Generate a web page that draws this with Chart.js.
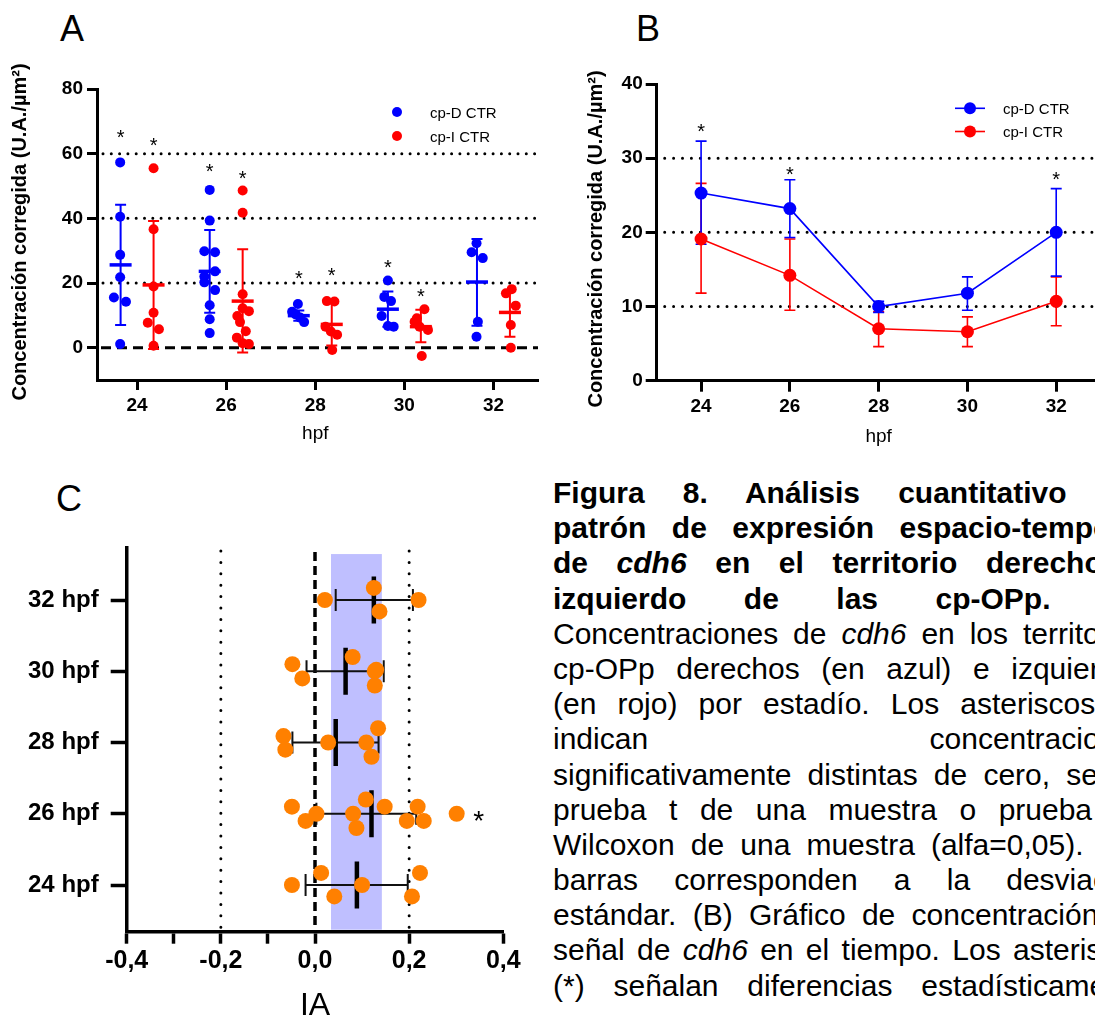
<!DOCTYPE html>
<html><head><meta charset="utf-8">
<script src="https://cdn.jsdelivr.net/npm/chart.js@4.4.1/dist/chart.umd.min.js"></script>
<style>
html,body{margin:0;padding:0;background:#fff;overflow:hidden;width:1095px;height:1019px;}
#wrap{position:relative;width:1095px;height:1019px;overflow:hidden;background:#fff;}
canvas{position:absolute;}
.letter{position:absolute;font-family:"Liberation Sans",Arial,sans-serif;font-size:36px;line-height:36px;color:#000;}
#caption{position:absolute;left:553px;top:475px;width:595px;font-family:"Liberation Sans",Arial,sans-serif;font-size:30px;line-height:35.2px;color:#000;}
#caption div{text-align:justify;text-align-last:justify;height:35.2px;}
#caption .b{font-weight:bold;}
</style>
</head><body>
<div id="wrap">
<div class="letter" style="left:60px;top:11px">A</div>
<div class="letter" style="left:636px;top:11px">B</div>
<div class="letter" style="left:56px;top:481px">C</div>
<canvas id="cA" width="560" height="400" style="left:0;top:60px"></canvas>
<canvas id="cB" width="530" height="400" style="left:580px;top:60px"></canvas>
<canvas id="cC" width="540" height="549" style="left:0;top:470px"></canvas>
<div id="caption">
<div class="b">Figura 8. Análisis cuantitativo del</div>
<div class="b">patrón de expresión espacio-temporal</div>
<div class="b">de <i>cdh6</i> en el territorio derecho e</div>
<div class="b">izquierdo de las cp-OPp. <span style="font-weight:normal">(A)</span></div>
<div>Concentraciones de <i>cdh6</i> en los territorios</div>
<div>cp-OPp derechos (en azul) e izquierdos</div>
<div>(en rojo) por estadío. Los asteriscos (*)</div>
<div>indican concentraciones</div>
<div>significativamente distintas de cero, según</div>
<div style="word-spacing:6px">prueba t de una muestra o prueba de</div>
<div>Wilcoxon de una muestra (alfa=0,05). Las</div>
<div>barras corresponden a la desviación</div>
<div>estándar. (B) Gráfico de concentración de</div>
<div>señal de <i>cdh6</i> en el tiempo. Los asteriscos</div>
<div>(*) señalan diferencias estadísticamente</div>
</div>
</div>
<script>
// ================= DATA =================
const stages = [24, 26, 28, 30, 32];
const stageLabelsC = ['24 hpf', '26 hpf', '28 hpf', '30 hpf', '32 hpf'];
const yTicksA = [0, 20, 40, 60, 80];
const yTicksB = [0, 10, 20, 30, 40];
const xTicksC = [-0.4, -0.3, -0.2, -0.1, 0, 0.1, 0.2, 0.3, 0.4];

// Panel A individual points (x = hpf with jitter, y = concentration)
const aD_x = [23.62,23.62,23.62,23.62,23.48,23.75,23.62,
  25.63,25.63,25.51,25.75,25.75,25.51,25.51,25.75,25.63,25.63,25.63,
  27.61,27.48,27.56,27.66,27.75,
  29.63,29.55,29.70,29.49,29.63,29.76,
  31.62,31.51,31.76,31.65,31.62];
const aD_y = [57.3,40.5,28.7,21.8,15.5,14.2,1.1,
  48.8,39.3,29.8,29.5,23.6,22.0,20.2,17.8,13.1,8.8,4.5,
  13.5,11.1,10.3,9.3,7.9,
  20.8,15.7,14.4,9.8,6.7,6.5,
  32.3,29.5,27.7,8.0,3.4];
const aI_x = [24.37,24.37,24.37,24.37,24.24,24.49,24.37,
  26.37,26.37,26.37,26.37,26.51,26.25,26.31,26.44,26.24,26.37,26.51,
  28.26,28.43,28.23,28.35,28.49,28.38,
  30.45,30.28,30.23,30.34,30.53,30.39,
  32.41,32.28,32.50,32.39,32.39];
const aI_y = [55.5,36.6,18.9,10.8,7.7,5.7,0.6,
  48.6,41.7,16.5,12.2,11.3,9.8,7.9,5.1,3.1,1.4,1.1,
  14.4,14.3,6.5,5.0,4.0,-0.7,
  11.9,9.1,8.0,6.5,5.5,-2.6,
  18.1,16.8,13.0,7.0,0.0];
// Panel A mean and SD bars
const aD_mean = [25.6, 23.6, 9.9, 11.9, 20.3];
const aD_lo   = [7.0, 10.8, 8.3, 6.5, 6.8];
const aD_hi   = [44.2, 36.4, 11.5, 17.4, 33.6];
const aI_mean = [19.4, 14.4, 7.2, 6.5, 10.9];
const aI_lo   = [-0.4, -1.5, 0.7, 1.7, 3.4];
const aI_hi   = [39.2, 30.4, 13.7, 11.7, 17.8];
const aD_star = [66.4, 56.0, 22.8, 26.3, null];
const aI_star = [64.0, 53.7, 23.7, 17.3, null];
const refA = [20, 40, 60];

// Panel B mean ± SEM
const bD_mean = [25.3, 23.2, 10.0, 11.8, 20.0];
const bD_hi   = [32.3, 27.1, 10.7, 14.0, 25.9];
const bD_lo   = [18.4, 19.3, 9.2, 9.5, 14.1];
const bI_mean = [19.1, 14.2, 7.0, 6.6, 10.7];
const bI_hi   = [26.6, 19.1, 9.3, 8.6, 14.0];
const bI_lo   = [11.8, 9.5, 4.6, 4.6, 7.4];
const bStar   = [34.3, 28.5, null, null, 27.8];
const refB = [10, 20, 30];

// Panel C: IA values per stage (index 0 = 24 hpf) and vertical jitter
const c24 = [-0.049, 0.013, 0.041, 0.100, 0.223, 0.206];
const c24j = [0, 0.17, -0.16, 0, 0.17, -0.16];
const c26 = [-0.049, -0.020, 0.003, 0.081, 0.108, 0.088, 0.148, 0.195, 0.218, 0.231, 0.301];
const c26j = [0.1, -0.1, 0, 0, 0.2, -0.2, 0.1, -0.1, 0.1, -0.1, 0];
const c28 = [-0.067, -0.063, 0.028, 0.109, 0.134, 0.120];
const c28j = [0.09, -0.1, 0, 0, 0.2, -0.2];
const c30 = [-0.048, -0.027, 0.080, 0.127, 0.130, 0.127];
const c30j = [0.1, -0.1, 0.2, 0, 0.02, -0.2];
const c32 = [0.021, 0.125, 0.137, 0.220];
const c32j = [0, 0.17, -0.16, 0];
const cMean = [0.089, 0.120, 0.044, 0.065, 0.125];
const cLo   = [-0.020, 0.003, -0.048, -0.018, 0.044];
const cHi   = [0.197, 0.215, 0.135, 0.146, 0.208];
const cBand = [0.034, 0.142];
const cBandTop = 4.645;
const cRef = [-0.2, 0.2];
const cStar = [0.348, 1];

// ================= STYLE =================
const F = '"Liberation Sans", Arial, Helvetica, sans-serif';
const BLUE = '#0000ff', RED = '#ff0000', ORANGE = '#ff8000';
const OFF = 0.37;
Chart.defaults.font.family = F;
Chart.defaults.color = '#000';
Chart.defaults.animation = false;
Chart.defaults.plugins.legend.display = false;
Chart.defaults.plugins.tooltip.enabled = false;

function dotted(ctx, x1, y1, x2, y2, lw, gap) {
  ctx.save(); ctx.setLineDash([0, gap]); ctx.lineCap = 'round'; ctx.lineWidth = lw;
  ctx.strokeStyle = '#000'; ctx.beginPath(); ctx.moveTo(x1, y1); ctx.lineTo(x2, y2); ctx.stroke(); ctx.restore();
}
function dashed(ctx, x1, y1, x2, y2, lw, dash) {
  ctx.save(); ctx.setLineDash(dash); ctx.lineCap = 'butt'; ctx.lineWidth = lw;
  ctx.strokeStyle = '#000'; ctx.beginPath(); ctx.moveTo(x1, y1); ctx.lineTo(x2, y2); ctx.stroke(); ctx.restore();
}
function vbar(ctx, x, y1, y2, cap, lw, color) {
  ctx.save(); ctx.strokeStyle = color; ctx.lineWidth = lw; ctx.beginPath();
  ctx.moveTo(x, y1); ctx.lineTo(x, y2);
  ctx.moveTo(x - cap, y1); ctx.lineTo(x + cap, y1);
  ctx.moveTo(x - cap, y2); ctx.lineTo(x + cap, y2);
  ctx.stroke(); ctx.restore();
}
function star(ctx, x, y, size) {
  ctx.save(); ctx.font = size + 'px ' + F; ctx.textAlign = 'center'; ctx.textBaseline = 'alphabetic';
  ctx.fillStyle = '#000'; ctx.fillText('*', x, y + 0.57 * size); ctx.restore();
}
function vtitle(ctx, text, x, y, font) {
  ctx.save(); ctx.translate(x, y); ctx.rotate(-Math.PI / 2); ctx.font = font; ctx.textAlign = 'center';
  ctx.textBaseline = 'middle'; ctx.fillStyle = '#000'; ctx.fillText(text, 0, 0); ctx.restore();
}
function htext(ctx, text, x, y, font, align) {
  ctx.save(); ctx.font = font; ctx.textAlign = align || 'center'; ctx.textBaseline = 'alphabetic';
  ctx.fillStyle = '#000'; ctx.fillText(text, x, y); ctx.restore();
}
function pts(xs, ys) { return xs.map((x, i) => ({ x: x, y: ys[i] })); }
function axisCommon(tickLen, tickW, fontSize, pad, bold) {
  return {
    grid: { display: true, drawOnChartArea: false, drawTicks: true, tickLength: tickLen, tickWidth: tickW, tickColor: '#000' },
    border: { display: true, width: 3, color: '#000' },
    ticks: { color: '#000', padding: pad, autoSkip: false, maxRotation: 0, minRotation: 0,
      font: { family: F, size: fontSize, weight: bold ? 'bold' : 'normal' } }
  };
}

// ================= PANEL A =================
(function () {
  const xA = axisCommon(10, 3, 19, 4, true);
  const yA = axisCommon(10, 3, 19, 4, true);
  new Chart(document.getElementById('cA'), {
    type: 'scatter',
    data: {
      datasets: [
        { data: stages.map((s, i) => ({ x: s - OFF, y: aD_mean[i] })), pointStyle: 'line', pointRadius: 11, borderColor: BLUE, pointBorderColor: BLUE, borderWidth: 3.5, pointBorderWidth: 3.5, order: 0 },
        { data: stages.map((s, i) => ({ x: s + OFF, y: aI_mean[i] })), pointStyle: 'line', pointRadius: 11, borderColor: RED, pointBorderColor: RED, borderWidth: 3.5, pointBorderWidth: 3.5, order: 0 },
        { data: pts(aD_x, aD_y), pointRadius: 5, backgroundColor: BLUE, pointBackgroundColor: BLUE, borderWidth: 0, pointBorderWidth: 0, order: 1 },
        { data: pts(aI_x, aI_y), pointRadius: 5, backgroundColor: RED, pointBackgroundColor: RED, borderWidth: 0, pointBorderWidth: 0, order: 1 }
      ]
    },
    options: {
      responsive: false, animation: false,
      layout: { padding: { top: 29, right: 22, left: 0, bottom: 0 } },
      scales: {
        x: Object.assign({ type: 'linear', min: 23.1, max: 33,
          afterBuildTicks: s => { s.ticks = stages.map(v => ({ value: v })); },
          afterFit: s => { s.height = 80; } }, xA),
        y: Object.assign({ type: 'linear', min: -10, max: 80,
          afterBuildTicks: s => { s.ticks = yTicksA.map(v => ({ value: v })); },
          afterFit: s => { s.width = 97; } }, yA)
      }
    },
    plugins: [{
      id: 'decoA',
      beforeDatasetsDraw(chart) {
        const { ctx, chartArea: ca, scales: { x, y } } = chart;
        refA.forEach(v => dotted(ctx, ca.left + 6, y.getPixelForValue(v), ca.right, y.getPixelForValue(v), 3, 8.3));
        dashed(ctx, ca.left + 4, y.getPixelForValue(0), ca.right, y.getPixelForValue(0), 3, [10, 6]);
      },
      afterDatasetsDraw(chart) {
        const { ctx, scales: { x, y } } = chart;
        stages.forEach((s, i) => {
          vbar(ctx, x.getPixelForValue(s - OFF), y.getPixelForValue(aD_lo[i]), y.getPixelForValue(aD_hi[i]), 5.5, 2, BLUE);
          vbar(ctx, x.getPixelForValue(s + OFF), y.getPixelForValue(aI_lo[i]), y.getPixelForValue(aI_hi[i]), 5.5, 2, RED);
          if (aD_star[i] !== null) star(ctx, x.getPixelForValue(s - OFF), y.getPixelForValue(aD_star[i]), 20);
          if (aI_star[i] !== null) star(ctx, x.getPixelForValue(s + OFF), y.getPixelForValue(aI_star[i]), 20);
        });
        // legend
        ctx.save();
        ctx.fillStyle = BLUE; ctx.beginPath(); ctx.arc(397, 52, 5, 0, Math.PI * 2); ctx.fill();
        ctx.fillStyle = RED; ctx.beginPath(); ctx.arc(397, 76, 5, 0, Math.PI * 2); ctx.fill();
        ctx.restore();
        htext(ctx, 'cp-D CTR', 430, 57.5, '15px ' + F, 'left');
        htext(ctx, 'cp-I CTR', 430, 82, '15px ' + F, 'left');
      },
      afterDraw(chart) {
        const { ctx, scales: { x } } = chart;
        vtitle(ctx, 'Concentración corregida (U.A./µm²)', 20.5, 172, 'bold 20px ' + F);
        htext(ctx, 'hpf', x.getPixelForValue(28), 379, '19px ' + F);
      }
    }]
  });
})();

// ================= PANEL B =================
(function () {
  const xB = axisCommon(11, 3, 19, 4, true);
  const yB = axisCommon(11, 3, 19, 3, true);
  new Chart(document.getElementById('cB'), {
    type: 'line',
    data: {
      datasets: [
        { label: 'cp-D CTR', data: stages.map((s, i) => ({ x: s, y: bD_mean[i] })), borderColor: BLUE, borderWidth: 1.6, pointRadius: 6.5, pointBackgroundColor: BLUE, pointBorderWidth: 0, fill: false, tension: 0, order: 0 },
        { label: 'cp-I CTR', data: stages.map((s, i) => ({ x: s, y: bI_mean[i] })), borderColor: RED, borderWidth: 1.6, pointRadius: 6.5, pointBackgroundColor: RED, pointBorderWidth: 0, fill: false, tension: 0, order: 1 }
      ]
    },
    options: {
      responsive: false, animation: false,
      layout: { padding: { top: 24, right: 9.4, left: 0, bottom: 0 } },
      scales: {
        x: Object.assign({ type: 'linear', min: 23, max: 33,
          afterBuildTicks: s => { s.ticks = stages.map(v => ({ value: v })); },
          afterFit: s => { s.height = 79.3; } }, xB),
        y: Object.assign({ type: 'linear', min: 0, max: 40,
          afterBuildTicks: s => { s.ticks = yTicksB.map(v => ({ value: v })); },
          afterFit: s => { s.width = 76.7; } }, yB)
      }
    },
    plugins: [{
      id: 'decoB',
      beforeDatasetsDraw(chart) {
        const { ctx, chartArea: ca, scales: { x, y } } = chart;
        refB.forEach(v => dotted(ctx, ca.left + 8, y.getPixelForValue(v), ca.right, y.getPixelForValue(v), 3, 8.9));
        stages.forEach((s, i) => {
          vbar(ctx, x.getPixelForValue(s), y.getPixelForValue(bI_lo[i]), y.getPixelForValue(bI_hi[i]), 5.5, 1.6, RED);
          vbar(ctx, x.getPixelForValue(s), y.getPixelForValue(bD_lo[i]), y.getPixelForValue(bD_hi[i]), 5.5, 1.6, BLUE);
        });
      },
      afterDatasetsDraw(chart) {
        const { ctx, scales: { x, y } } = chart;
        stages.forEach((s, i) => { if (bStar[i] !== null) star(ctx, x.getPixelForValue(s), y.getPixelForValue(bStar[i]), 20); });
        ctx.save();
        [[BLUE, 48.3], [RED, 71.5]].forEach(([c, yy]) => {
          ctx.strokeStyle = c; ctx.lineWidth = 1.6; ctx.beginPath(); ctx.moveTo(375, yy); ctx.lineTo(405, yy); ctx.stroke();
          ctx.fillStyle = c; ctx.beginPath(); ctx.arc(390, yy, 6, 0, Math.PI * 2); ctx.fill();
        });
        ctx.restore();
        htext(ctx, 'cp-D CTR', 423, 53.8, '15px ' + F, 'left');
        htext(ctx, 'cp-I CTR', 423, 77, '15px ' + F, 'left');
      },
      afterDraw(chart) {
        const { ctx, scales: { x } } = chart;
        vtitle(ctx, 'Concentración corregida (U.A./µm²)', 16, 179, 'bold 20px ' + F);
        htext(ctx, 'hpf', x.getPixelForValue(28), 382, '19px ' + F);
      }
    }]
  });
})();

// ================= PANEL C =================
(function () {
  const cVals = [c24, c26, c28, c30, c32];
  const cJit = [c24j, c26j, c28j, c30j, c32j];
  const cPts = [];
  cVals.forEach((arr, i) => arr.forEach((v, k) => cPts.push({ x: v, y: i + cJit[i][k] })));
  const xC = axisCommon(12, 3.5, 25, 2, true);
  xC.grid.tickColor = c => (c.tick && (Math.abs(c.tick.value - 0.1) < 1e-6 || Math.abs(c.tick.value - 0.3) < 1e-6)) ? 'rgba(0,0,0,0)' : '#000';
  xC.border.width = 3.5;
  xC.ticks.callback = v => (Math.abs(Math.round(v * 10)) % 2 === 0) ? v.toFixed(1).replace('.', ',') : '';
  const yC = axisCommon(16, 3.5, 24, 12, true);
  yC.border.width = 3.5;
  yC.ticks.callback = v => stageLabelsC[v];
  new Chart(document.getElementById('cC'), {
    type: 'scatter',
    data: {
      datasets: [
        { data: cMean.map((m, i) => ({ x: m, y: i })), pointStyle: 'line', rotation: 90, pointRotation: 90, pointRadius: 23.5, borderColor: '#000', pointBorderColor: '#000', borderWidth: 4.5, pointBorderWidth: 4.5, order: 2 },
        { data: cPts, pointRadius: 8, backgroundColor: ORANGE, pointBackgroundColor: ORANGE, borderWidth: 0, pointBorderWidth: 0, order: 1 }
      ]
    },
    options: {
      responsive: false, animation: false,
      layout: { padding: { top: 78, right: 36.7, left: 0, bottom: 0 } },
      scales: {
        x: Object.assign({ type: 'linear', min: -0.4, max: 0.4,
          afterBuildTicks: s => { s.ticks = xTicksC.map(v => ({ value: v })); },
          afterFit: s => { s.height = 87.3; } }, xC),
        y: Object.assign({ type: 'linear', min: -0.655, max: 4.73,
          afterBuildTicks: s => { s.ticks = [0, 1, 2, 3, 4].map(v => ({ value: v })); },
          afterFit: s => { s.width = 126.7; } }, yC)
      }
    },
    plugins: [{
      id: 'decoC',
      beforeDatasetsDraw(chart) {
        const { ctx, chartArea: ca, scales: { x, y } } = chart;
        ctx.save(); ctx.fillStyle = '#bfbfff';
        const bx1 = x.getPixelForValue(cBand[0]), bx2 = x.getPixelForValue(cBand[1]);
        const by = y.getPixelForValue(cBandTop);
        ctx.fillRect(bx1, by, bx2 - bx1, ca.bottom - 2 - by); ctx.restore();
        cRef.forEach(v => dotted(ctx, x.getPixelForValue(v), ca.top + 3, x.getPixelForValue(v), ca.bottom, 3, 11.4));
        dashed(ctx, x.getPixelForValue(0), ca.top + 4, x.getPixelForValue(0), ca.bottom, 3.5, [9, 5]);
        cMean.forEach((m, i) => {
          const yy = y.getPixelForValue(i), x1 = x.getPixelForValue(cLo[i]), x2 = x.getPixelForValue(cHi[i]);
          ctx.save(); ctx.strokeStyle = '#111'; ctx.lineWidth = 2; ctx.beginPath();
          ctx.moveTo(x1, yy); ctx.lineTo(x2, yy);
          ctx.moveTo(x1, yy - 11); ctx.lineTo(x1, yy + 11);
          ctx.moveTo(x2, yy - 11); ctx.lineTo(x2, yy + 11);
          ctx.stroke(); ctx.restore();
        });
      },
      afterDraw(chart) {
        const { ctx, chartArea: ca, scales: { x, y } } = chart;
        star(ctx, x.getPixelForValue(cStar[0]), y.getPixelForValue(cStar[1]), 28);
        htext(ctx, 'IA', x.getPixelForValue(0), 545, '32px ' + F);
      }
    }]
  });
})();
</script>
</body></html>
